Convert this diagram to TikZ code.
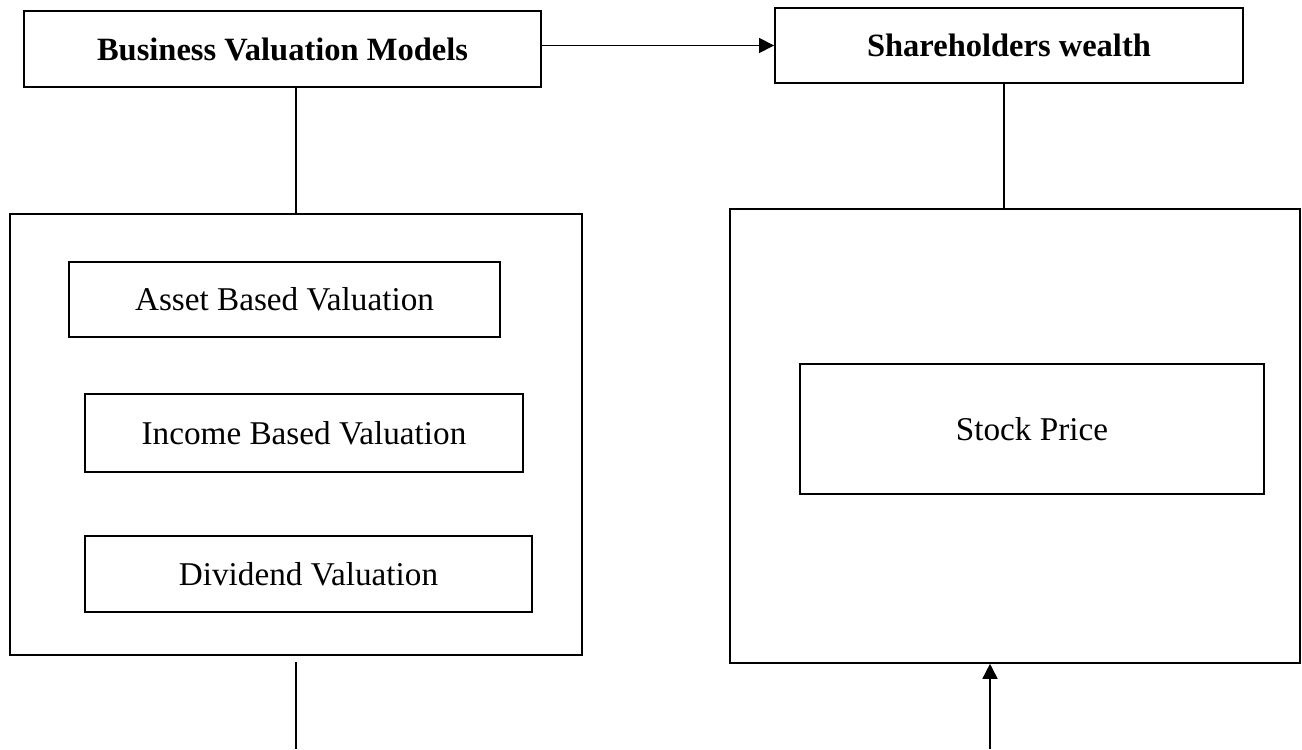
\documentclass[tikz,border=0pt]{standalone}
\usepackage{fontspec}
\setmainfont{Liberation Serif}
\usepackage{tikz}
\usetikzlibrary{positioning}
\usetikzlibrary{arrows.meta}
\usetikzlibrary{calc}
\tikzset{>={Triangle[length=3mm, width=3mm]}}
\tikzset{headbox/.style={draw, rectangle, line width=1.1pt, inner sep=0pt, font=\fontsize{18.5}{22}\selectfont\bfseries}}
\tikzset{outerbox/.style={draw, rectangle, line width=0.9pt, inner sep=0pt}}
\tikzset{itembox/.style={draw, rectangle, line width=1.1pt, inner sep=0pt, font=\fontsize{18.9}{22}\selectfont}}
\tikzset{link/.style={line width=0.9pt}}

\begin{document}
\begin{tikzpicture}
\useasboundingbox (0,0) rectangle (26.04,-14.98);

\node[headbox, minimum width=10.34cm, minimum height=1.52cm] (bvm) at (5.65,-0.98) {Business Valuation Models};
\node[headbox, minimum width=9.36cm, minimum height=1.5cm] (sw) at (20.18,-0.91) {Shareholders wealth};

\node[outerbox, minimum width=11.44cm, minimum height=8.82cm] (models) at (5.92,-8.69) {};
\node[outerbox, minimum width=11.4cm, minimum height=9.08cm] (wealth) at (20.3,-8.72) {};

\node[itembox, minimum width=8.62cm, minimum height=1.5cm] (asset) at (5.69,-5.99) {Asset Based Valuation};
\node[itembox, minimum width=8.76cm, minimum height=1.56cm] (income) at (6.08,-8.66) {Income Based Valuation};
\node[itembox, minimum width=8.94cm, minimum height=1.52cm] (dividend) at (6.17,-11.48) {Dividend Valuation};

\node[itembox, minimum width=9.28cm, minimum height=2.6cm] (stock) at (20.64,-8.58) {Stock Price};

\coordinate (lfoot) at (5.92,-14.98);
\coordinate (rfoot) at (19.8,-14.98);

\draw[link, ->] (sw.west -| bvm.east) -- (sw.west);
\draw[link] (models.north |- bvm.south) -- (models.north);
\draw[link] ([xshift=-1mm]sw.south) -- ([xshift=-1mm]sw.south |- wealth.north);
\draw[link] (lfoot) -- ([yshift=-1.2mm]models.south);
\draw[link, ->] (rfoot) -- (rfoot |- wealth.south);
\end{tikzpicture}
\end{document}
